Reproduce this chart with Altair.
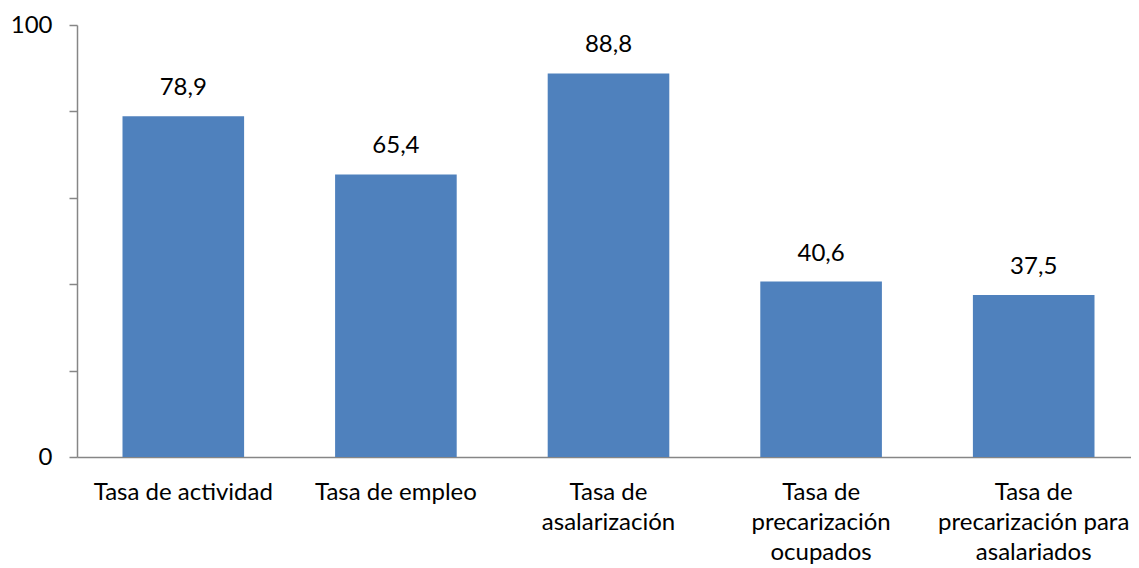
import altair as alt
import pandas as pd

categories = [
    "Tasa de actividad",
    "Tasa de empleo",
    "Tasa de|asalarización",
    "Tasa de|precarización|ocupados",
    "Tasa de|precarización para|asalariados",
]
values = [78.9, 65.4, 88.8, 40.6, 37.5]

df = pd.DataFrame({"cat": categories, "v": values})

FONT = "Lato"
FS = 24

x = alt.X(
    "cat:N",
    sort=categories,
    title=None,
    scale=alt.Scale(paddingInner=0.428, paddingOuter=0.214, range=[0, 1063]),
    axis=alt.Axis(
        labelExpr="split(datum.label, '|')",
        labelAngle=0,
        ticks=False,
        labelPadding=23,
        labelLineHeight=30,
        labelLimit=400,
        labelFont=FONT,
        labelFontSize=FS,
        labelColor="black",
        domainColor="#868686",
        domainWidth=1.5,
        labelBaseline="top",
    ),
)

y = alt.Y(
    "v:Q",
    title=None,
    scale=alt.Scale(domain=[0, 100], nice=False),
    axis=alt.Axis(
        values=[0, 20, 40, 60, 80, 100],
        labelExpr="datum.value == 0 || datum.value == 100 ? datum.label : ''",
        grid=False,
        tickSize=8,
        tickColor="#868686",
        tickWidth=1.5,
        domainColor="#868686",
        domainWidth=1.5,
        labelPadding=17,
        labelFont=FONT,
        labelFontSize=FS,
        labelColor="black",
    ),
)

base = alt.Chart(df)
bars = base.mark_bar(color="#4F81BD").encode(x=x, y=y)
text = base.transform_calculate(
    lab="replace(format(datum.v, '.1f'), '.', ',')"
).mark_text(dy=-28, baseline="middle", font=FONT, fontSize=FS, color="black").encode(
    x=alt.X("cat:N", sort=categories), y="v:Q", text="lab:N"
)

chart = (
    (bars + text)
    .properties(
        width=1054,
        height=432,
        padding={"left": 69, "top": 17, "right": 0, "bottom": 111},
        autosize=alt.AutoSizeParams(type="none"),
    )
    .configure_view(stroke=None)
)

chart.save("out.html", embed_options={"renderer": "svg", "actions": False})
